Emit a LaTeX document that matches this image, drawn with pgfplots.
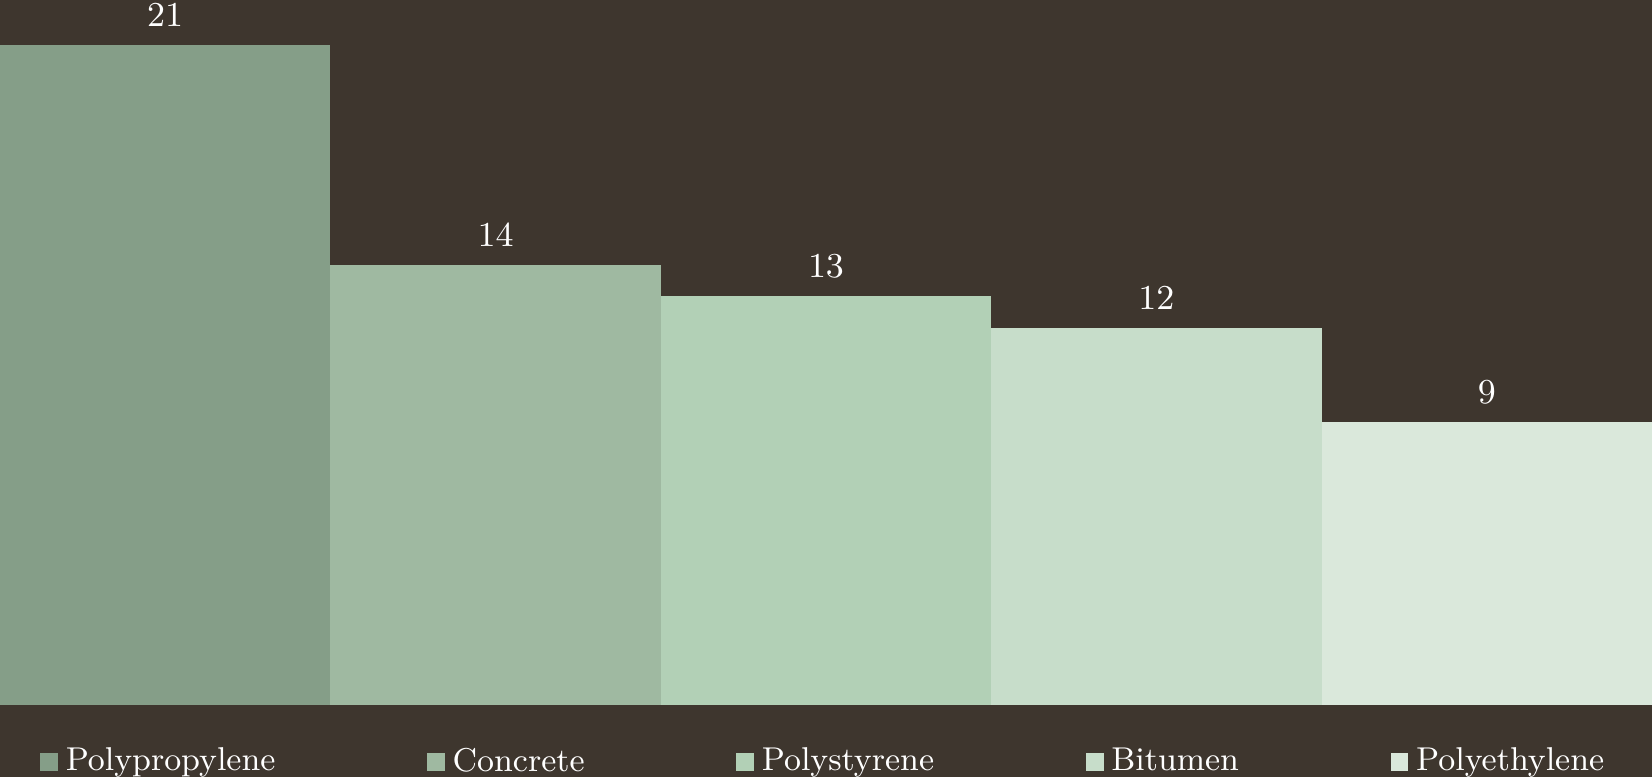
\documentclass[border=0pt]{standalone}
\usepackage{pgfplots}
\pgfplotsset{compat=1.18}
\definecolor{bg}{HTML}{3E362E}
\definecolor{c1}{HTML}{859E88}
\definecolor{c2}{HTML}{9FB9A1}
\definecolor{c3}{HTML}{B2D0B6}
\definecolor{c4}{HTML}{C7DDCA}
\definecolor{c5}{HTML}{DAE8DB}
\begin{document}
\begin{tikzpicture}
\fill[bg] (0,0) rectangle (425.4pt,200.08pt);
\begin{axis}[
  at={(0pt,18.54pt)}, anchor=south west,
  scale only axis, width=425.4pt, height=181.54pt,
  xmin=0.5, xmax=5.5, ymin=0, ymax=22.43,
  hide axis, clip=false,
  ybar, bar width=1, bar shift=0pt,
  nodes near coords,
  every node near coord/.append style={font=\fontsize{9.27}{11}\selectfont, text=white, inner sep=0pt, yshift=4.64pt},
  legend columns=5,
  legend style={at={(0.5,0)}, anchor=center, yshift=-14.8pt, draw=none, fill=none, text=white,
    font=\fontsize{8.5}{10}\selectfont,
    /tikz/every even column/.append style={column sep=37pt}},
  legend image code/.code={\fill[#1] (0pt,-2.32pt) rectangle (4.63pt,2.32pt);},
]
\addplot[fill=c1, draw=none] coordinates {(1,21)}; \addlegendentry{Polypropylene}
\addplot[fill=c2, draw=none] coordinates {(2,14)}; \addlegendentry{Concrete}
\addplot[fill=c3, draw=none] coordinates {(3,13)}; \addlegendentry{Polystyrene}
\addplot[fill=c4, draw=none] coordinates {(4,12)}; \addlegendentry{Bitumen}
\addplot[fill=c5, draw=none] coordinates {(5,9)}; \addlegendentry{Polyethylene}
\end{axis}
\pgfresetboundingbox
\useasboundingbox (0,0) rectangle (425.4pt,200.08pt);
\end{tikzpicture}
\end{document}
